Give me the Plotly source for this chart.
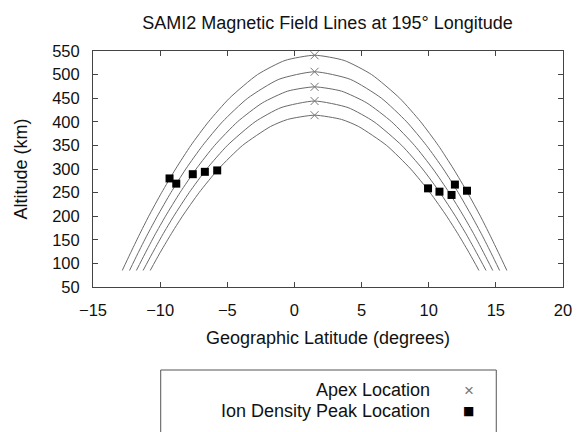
import plotly.graph_objects as go

# ---------------- data ----------------
# Field line 1 (outermost)
line1_alt = [85, 120, 160, 200, 250, 300, 350, 400, 450, 500, 530, 541,
             530, 500, 450, 400, 350, 300, 250, 200, 160, 120, 85]
line1_lat = [-12.82, -12.24, -11.56, -10.85, -9.89, -8.85, -7.71, -6.40, -4.84, -2.75, -0.70, 1.5,
             3.70, 5.75, 7.84, 9.40, 10.71, 11.85, 12.89, 13.85, 14.56, 15.24, 15.82]
# Field line 2
line2_alt = [85, 120, 160, 200, 250, 300, 350, 400, 450, 490, 506,
             490, 450, 400, 350, 300, 250, 200, 160, 120, 85]
line2_lat = [-12.28, -11.68, -10.97, -10.21, -9.20, -8.09, -6.83, -5.36, -3.48, -1.16, 1.5,
             4.16, 6.48, 8.36, 9.83, 11.09, 12.20, 13.21, 13.97, 14.68, 15.28]
# Field line 3
line3_alt = [85, 120, 160, 200, 250, 300, 350, 400, 440, 465, 474,
             465, 440, 400, 350, 300, 250, 200, 160, 120, 85]
line3_lat = [-11.77, -11.14, -10.40, -9.60, -8.52, -7.32, -5.94, -4.24, -2.39, -0.50, 1.5,
             3.50, 5.39, 7.24, 8.94, 10.32, 11.52, 12.60, 13.40, 14.14, 14.77]
# Field line 4
line4_alt = [85, 120, 160, 200, 250, 300, 350, 400, 430, 444,
             430, 400, 350, 300, 250, 200, 160, 120, 85]
line4_lat = [-11.27, -10.61, -9.83, -8.99, -7.84, -6.54, -4.99, -2.93, -1.00, 1.5,
             4.00, 5.93, 7.99, 9.54, 10.84, 11.99, 12.83, 13.61, 14.27]
# Field line 5 (innermost)
line5_alt = [85, 120, 160, 200, 250, 300, 350, 390, 405, 414,
             405, 390, 350, 300, 250, 200, 160, 120, 85]
line5_lat = [-10.74, -10.06, -9.23, -8.34, -7.10, -5.66, -3.86, -1.78, -0.51, 1.5,
             3.51, 4.78, 6.86, 8.66, 10.10, 11.34, 12.23, 13.06, 13.74]

field_lines = [(line1_lat, line1_alt), (line2_lat, line2_alt), (line3_lat, line3_alt),
               (line4_lat, line4_alt), (line5_lat, line5_alt)]

# Apex locations
apex_lat = [1.5, 1.5, 1.5, 1.5, 1.5]
apex_alt = [541, 506, 474, 444, 414]

# Ion density peak locations
peak_lat = [-9.30, -8.80, -7.57, -6.67, -5.75, 9.95, 10.80, 11.70, 11.95, 12.85]
peak_alt = [280, 269, 289, 294, 297, 259, 252, 245, 267, 254]

x_ticks = [-15, -10, -5, 0, 5, 10, 15, 20]
y_ticks = [50, 100, 150, 200, 250, 300, 350, 400, 450, 500, 550]

legend_labels = ["Apex Location", "Ion Density Peak Location"]

# ---------------- layout constants ----------------
W, H = 583, 432
ML, MR, MT, MB = 93, 11, 51, 145
PW, PH = W - ML - MR, H - MT - MB
FONT = "Liberation Sans, Arial, sans-serif"
TXT = "#111111"
AX = "#444444"
TICK_SIZE = 16.5
LABEL_SIZE = 18


def px_x(px):
    return (px - ML) / PW


def px_y(py):
    return (H - MB - py) / PH


fig = go.Figure()

for lat, alt in field_lines:
    fig.add_trace(go.Scatter(x=lat, y=alt, mode="lines",
                             line=dict(color="#6a6a6a", width=1, shape="spline", smoothing=0.6),
                             showlegend=False, hoverinfo="skip"))

fig.add_trace(go.Scatter(x=apex_lat, y=apex_alt, mode="markers",
                         marker=dict(symbol="x-thin", size=8, line=dict(color="#777777", width=1)),
                         showlegend=False))
fig.add_trace(go.Scatter(x=peak_lat, y=peak_alt, mode="markers",
                         marker=dict(symbol="square", size=8, color="black"),
                         showlegend=False))

axis_common = dict(ticks="inside", ticklen=5, tickcolor=AX, tickwidth=1,
                   showline=True, linecolor=AX, linewidth=1, mirror="ticks",
                   showgrid=False, zeroline=False,
                   tickfont=dict(family=FONT, size=TICK_SIZE, color=TXT))

fig.update_layout(
    width=W, height=H,
    margin=dict(l=ML, r=MR, t=MT, b=MB),
    paper_bgcolor="white", plot_bgcolor="white",
    font=dict(family=FONT, size=LABEL_SIZE, color=TXT),
    title=dict(text="SAMI2 Magnetic Field Lines at 195° Longitude",
               x=px_x(332), xref="paper", xanchor="center",
               y=1 - 23 / H, yref="container", yanchor="middle",
               font=dict(family=FONT, size=LABEL_SIZE, color=TXT)),
    xaxis=dict(range=[-15, 20], tickvals=x_ticks, ticklabelstandoff=8,
               title=dict(text="Geographic Latitude (degrees)", standoff=13,
                          font=dict(family=FONT, size=LABEL_SIZE, color=TXT)),
               **axis_common),
    yaxis=dict(range=[50, 550], tickvals=y_ticks, ticklabelstandoff=9,
               title=dict(text="Altitude (km)", standoff=19,
                          font=dict(family=FONT, size=LABEL_SIZE, color=TXT)),
               **axis_common),
    showlegend=False,
)

# custom gnuplot-style key box (text right-aligned, symbol on the right)
fig.add_shape(type="rect", xref="paper", yref="paper",
              x0=px_x(162), x1=px_x(504), y0=px_y(370), y1=px_y(470),
              line=dict(color="#555555", width=1), fillcolor="rgba(0,0,0,0)")
row_y = [390, 411]
for lab, ry in zip(legend_labels, row_y):
    fig.add_annotation(text=lab, xref="paper", yref="paper", x=px_x(439), y=px_y(ry),
                       xanchor="right", yanchor="middle", showarrow=False,
                       font=dict(family=FONT, size=LABEL_SIZE, color=TXT))
fig.add_annotation(text="×", xref="paper", yref="paper", x=px_x(476), y=px_y(row_y[0]),
                   xanchor="center", yanchor="middle", showarrow=False,
                   font=dict(family=FONT, size=17, color="#777777"))
fig.add_annotation(text="■", xref="paper", yref="paper", x=px_x(476), y=px_y(row_y[1]),
                   xanchor="center", yanchor="middle", showarrow=False,
                   font=dict(family="DejaVu Sans", size=12, color="black"))

fig.write_html("out.html")
